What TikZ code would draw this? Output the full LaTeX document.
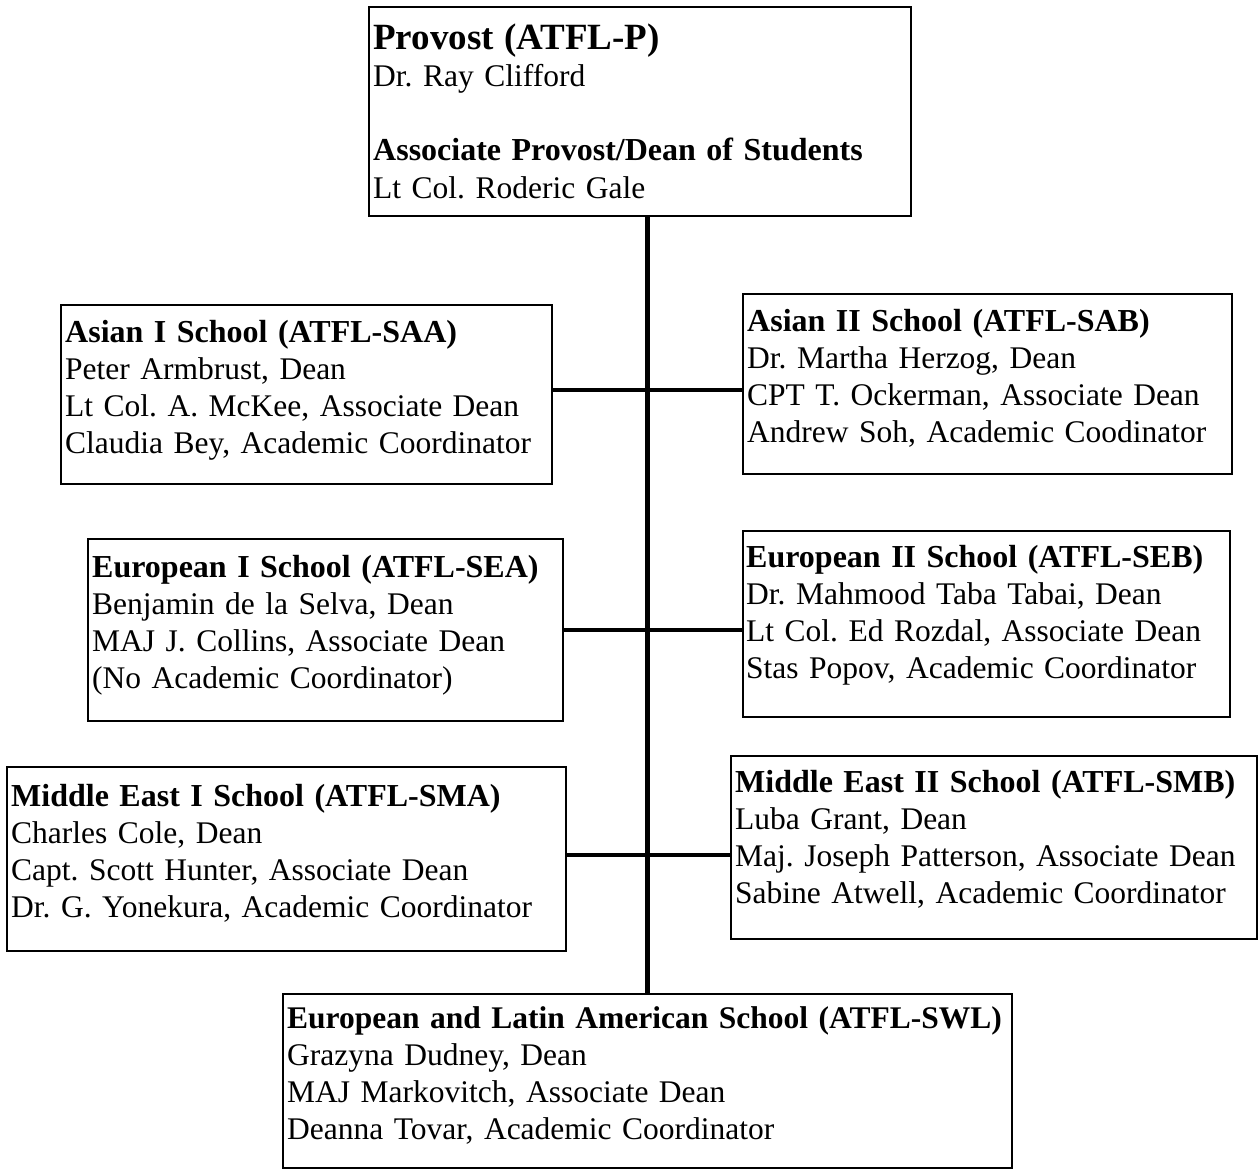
\documentclass[tikz,border=0pt]{standalone}
\usepackage{fontspec}
\setmainfont{Liberation Serif}
\frenchspacing
\begin{document}
\begin{tikzpicture}[x=1pt,y=-1pt,
  box/.style={draw, line width=1.6pt, anchor=north west, inner sep=0pt, minimum width=#1},
  txt/.style={anchor=base west, align=left, inner sep=0pt, text width=#1,
              font=\fontsize{31.5}{37.3}\selectfont},
  vline/.style={line width=4.5pt},
  hline/.style={line width=3.8pt}]
\useasboundingbox (0,0) rectangle (1259,1170);

% Provost
\node[box=542, minimum height=209] (prov) at (368,6) {};
\node[txt=530] (provt) at (373,49) {{\fontsize{37}{37.3}\selectfont\bfseries Provost (ATFL-P)}\\Dr. Ray Clifford\\[37.3pt]{\fontsize{32}{37.3}\selectfont\bfseries Associate Provost/Dean of Students}\\Lt Col. Roderic Gale};

% Asian I
\node[box=491, minimum height=179] (saa) at (60,304) {};
\node[txt=480] (saat) at (65,342) {{\fontsize{32}{37.3}\selectfont\bfseries Asian I School (ATFL-SAA)}\\Peter Armbrust, Dean\\Lt Col. A. McKee, Associate Dean\\Claudia Bey, Academic Coordinator};

% Asian II
\node[box=489, minimum height=180] (sab) at (742,293) {};
\node[txt=480] (sabt) at (747,331) {{\fontsize{32}{37.3}\selectfont\bfseries Asian II School (ATFL-SAB)}\\Dr. Martha Herzog, Dean\\CPT T. Ockerman, Associate Dean\\Andrew Soh, Academic Coodinator};

% European I
\node[box=475, minimum height=182] (sea) at (87,538) {};
\node[txt=465] (seat) at (92,577) {{\fontsize{32}{37.3}\selectfont\bfseries European I School (ATFL-SEA)}\\Benjamin de la Selva, Dean\\MAJ J. Collins, Associate Dean\\(No Academic Coordinator)};

% European II
\node[box=487, minimum height=186] (seb) at (742,530) {};
\node[txt=480] (sebt) at (746,567) {{\fontsize{32}{37.3}\selectfont\bfseries European II School (ATFL-SEB)}\\Dr. Mahmood Taba Tabai, Dean\\Lt Col. Ed Rozdal, Associate Dean\\Stas Popov, Academic Coordinator};

% Middle East I
\node[box=559, minimum height=184] (sma) at (6,766) {};
\node[txt=550] (smat) at (11,806) {{\fontsize{32}{37.3}\selectfont\bfseries Middle East I School (ATFL-SMA)}\\Charles Cole, Dean\\Capt. Scott Hunter, Associate Dean\\Dr. G. Yonekura, Academic Coordinator};

% Middle East II
\node[box=526, minimum height=183] (smb) at (730,755) {};
\node[txt=522] (smbt) at (735,792) {{\fontsize{32}{37.3}\selectfont\bfseries Middle East II School (ATFL-SMB)}\\Luba Grant, Dean\\Maj. Joseph Patterson, Associate Dean\\Sabine Atwell, Academic Coordinator};

% European and Latin American
\node[box=729, minimum height=174] (swl) at (282,993) {};
\node[txt=722] (swlt) at (287,1028) {{\fontsize{31.5}{37.3}\selectfont\bfseries European and Latin American School (ATFL-SWL)}\\Grazyna Dudney, Dean\\MAJ Markovitch, Associate Dean\\Deanna Tovar, Academic Coordinator};

% connectors
\draw[vline] (prov.south -| swl.north) -- (swl.north);
\draw[hline] (saa.east |- 0,390) -- (sab.west |- 0,390);
\draw[hline] (sea.east |- 0,630) -- (seb.west |- 0,630);
\draw[hline] (sma.east |- 0,855) -- (smb.west |- 0,855);
\end{tikzpicture}
\end{document}
